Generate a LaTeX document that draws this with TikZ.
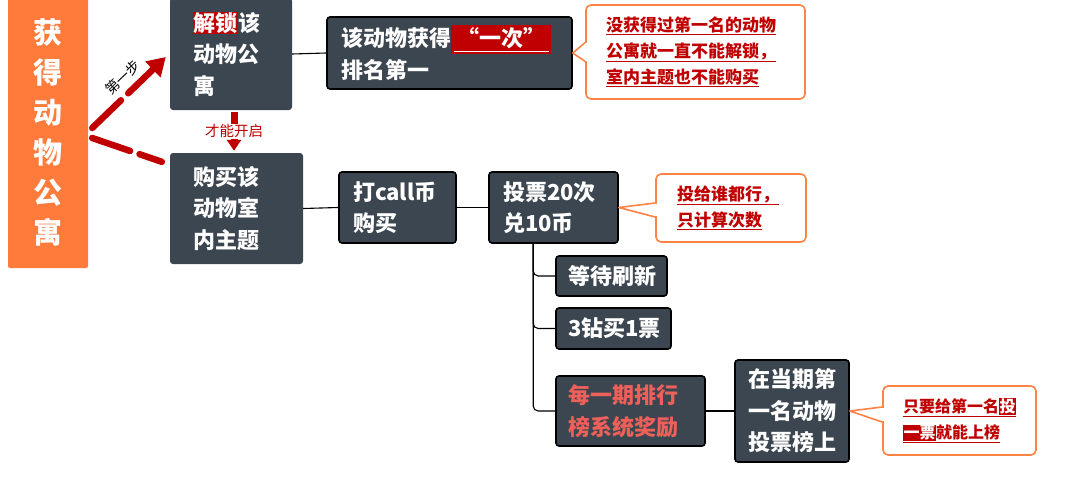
\documentclass[tikz,border=0pt]{standalone}
\usepackage{fontspec}
\setmainfont{Noto Sans CJK SC}
\usetikzlibrary{arrows.meta,calc}
\definecolor{boxgray}{HTML}{3C4650}
\definecolor{rootorange}{HTML}{FF7B3B}
\definecolor{calloutorange}{HTML}{FF8345}
\definecolor{deepred}{HTML}{C00000}
\definecolor{salmon}{HTML}{F0605A}
\newcommand{\hlred}[1]{{\setlength{\fboxsep}{0.5pt}\colorbox{deepred}{\textcolor{white}{#1}}}}
\tikzset{
  rootbox/.style={fill=rootorange, text=white, rounded corners=2pt, align=center,
    inner sep=0pt, font=\bfseries\fontsize{29}{40}\selectfont},
  topic/.style={fill=boxgray, text=white, rounded corners=3pt, align=left,
    inner ysep=0pt, font=\bfseries\fontsize{22}{31.5}\selectfont},
  subtopic/.style={topic, draw=black, line width=1.6pt},
  callout/.style={draw=calloutorange, line width=1.6pt, fill=white, rounded corners=5pt,
    text=deepred, align=left, inner ysep=0pt, font=\bfseries\fontsize{17}{26}\selectfont},
  pointer/.style={draw=calloutorange, line width=1.6pt, fill=white, line join=round},
  conn/.style={draw=black, line width=1.1pt},
  stepline/.style={draw=deepred, line width=6.5pt, line cap=round, dash pattern=on 40pt off 10pt},
  opens/.style={draw=deepred, line width=7pt},
}
\begin{document}
\begin{tikzpicture}[x=1pt,y=-1pt]
  \useasboundingbox (0,0) rectangle (1079,479);
  \draw
    (48,132) node[rootbox, minimum width=80pt, minimum height=272pt] (root) {获\\得\\动\\物\\公\\寓}
    (231,54) node[topic, minimum height=112pt, text width=76pt, inner xsep=23pt] (unlock) {\hlred{解锁}该\\动物公\\寓}
    (236.5,208.5) node[topic, minimum height=111pt, text width=87pt, inner xsep=23pt] (buy) {购买该\\动物室\\内主题}
    (449.5,53) node[subtopic, minimum height=72pt, text width=217pt, inner xsep=14pt] (rank)
      {该动物获得{\setlength{\fboxsep}{2.5pt}\colorbox{deepred}{\textcolor{white}{\underline{\,“一次”\,}}}}\\排名第一}
    (397.5,207.5) node[subtopic, minimum height=71pt, text width=89pt, inner xsep=14pt] (callcoin) {打call币\\购买}
    (553.5,207.5) node[subtopic, minimum height=71pt, text width=101pt, inner xsep=14pt] (vote) {投票20次\\兑10币}
    (611.5,276) node[subtopic, minimum height=40pt, text width=87pt, inner xsep=12pt] (refresh) {等待刷新}
    (613.5,328.5) node[subtopic, minimum height=41pt, text width=91pt, inner xsep=12pt] (ticket) {3钻买1票}
    (630.5,411) node[subtopic, text=salmon, minimum height=70pt, text width=125pt, inner xsep=12pt] (reward) {每一期排行\\榜系统奖励}
    (792,411) node[subtopic, minimum height=102pt, text width=88pt, inner xsep=13pt] (onboard) {在当期第\\一名动物\\投票榜上};
  \draw
    (695.5,52) node[callout, minimum height=94pt, text width=179pt, inner xsep=20pt] (note1)
      {\underline{没获得过第一名的动物}\\\underline{公寓就一直不能解锁，}\\\underline{室内主题也不能购买}}
    (731,208) node[callout, minimum height=68pt, text width=108pt, inner xsep=21pt] (note2)
      {\underline{投给谁都行，}\\\underline{只计算次数}}
    (959.5,420.5) node[callout, font=\bfseries\fontsize{16}{26}\selectfont, minimum height=69pt, text width=113pt, inner xsep=20pt] (note3)
      {\underline{只要给第一名\hlred{投}}\\\underline{\hlred{一票}就能上榜}};
  \foreach \n/\t/\a/\b in {note1/rank/-9.5/9.5, note2/vote/-5/9, note3/onboard/-13.5/1.5} {
    \filldraw[pointer] ($(\n.west)+(0,\a)$) -- (\t.east) -- ($(\n.west)+(0,\b)$);
    \fill[white] ($(\n.west)+(-0.2,\a+0.8)$) rectangle ($(\n.west)+(1.6,\b-0.8)$);
  }
  \begin{scope}[conn]
    \draw (unlock.east) -- (rank.west);
    \draw (buy.east) -- (callcoin.west);
    \draw (callcoin.east) -- (vote.west);
    \draw[rounded corners=5pt] ($(vote.south west)+(45,0)$) |- (refresh.west);
    \draw[rounded corners=5pt] ($(vote.south west)+(45,0)$) |- (ticket.west);
    \draw[rounded corners=5pt] ($(vote.south west)+(45,0)$) |- (reward.west);
    \draw (reward.east) -- (onboard.west);
  \end{scope}
  \draw[stepline, -{Triangle[length=18pt,width=21pt]}] ($(root.east)+(4,-4)$) -- ($(unlock.west)+(-4,3)$)
    node[sloped, pos=0.56, above=2pt, text=black, font=\fontsize{14}{14}\selectfont] (first) {第一步};
  \draw[stepline] ($(root.east)+(4,6)$) -- ($(buy.north west)+(-8,9)$);
  \draw[opens, -{Triangle[length=11pt,width=14pt]}] ($(unlock.south)+(3,2)$) -- ($(buy.north)+(-2.5,-2)$)
    node[midway, fill=white, text=deepred, inner sep=1pt, font=\fontsize{14.5}{15}\selectfont] (opensnote) {才能开启};
\end{tikzpicture}
\end{document}
